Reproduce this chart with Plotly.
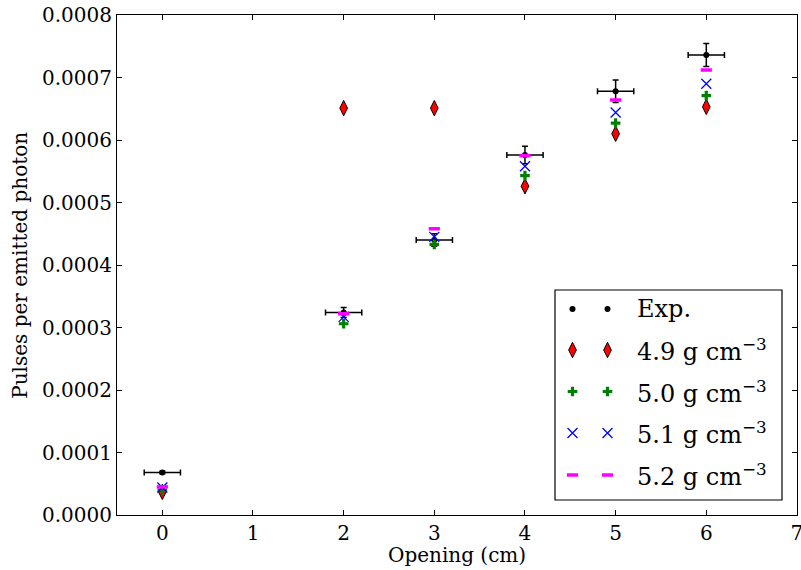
import plotly.graph_objects as go

# Measured pulses per emitted photon versus collimator opening
opening = [0, 2, 3, 4, 5, 6]
exp_vals = [6.8e-5, 3.24e-4, 4.40e-4, 5.76e-4, 6.78e-4, 7.36e-4]
exp_yerr = [2e-6, 8e-6, 1.0e-5, 1.4e-5, 1.8e-5, 1.85e-5]
exp_xerr = [0.2, 0.2, 0.2, 0.2, 0.2, 0.2]

# Simulated values for different material densities
sim_49 = [3.7e-5, 6.51e-4, 6.51e-4, 5.26e-4, 6.10e-4, 6.53e-4]
sim_50 = [4.0e-5, 3.06e-4, 4.33e-4, 5.43e-4, 6.27e-4, 6.71e-4]
sim_51 = [4.4e-5, 3.17e-4, 4.45e-4, 5.58e-4, 6.44e-4, 6.90e-4]
sim_52 = [4.5e-5, 3.22e-4, 4.58e-4, 5.75e-4, 6.64e-4, 7.12e-4]

labels = ["Exp.", "4.9 g cm<sup>\u22123</sup>", "5.0 g cm<sup>\u22123</sup>",
          "5.1 g cm<sup>\u22123</sup>", "5.2 g cm<sup>\u22123</sup>"]

x_ticks = [0, 1, 2, 3, 4, 5, 6, 7]

FONT = "DejaVu Serif"

styles = [
    dict(symbol="circle", size=6, color="black", line=dict(width=0)),
    dict(symbol="diamond-tall", size=11, color="red", line=dict(width=1, color="black")),
    dict(symbol="cross", size=8, color="green", line=dict(width=0)),
    dict(symbol="x-thin-open", size=10, color="blue", line=dict(width=1.3, color="blue")),
    dict(symbol="line-ew-open", size=8, color="magenta", line=dict(width=3.5, color="magenta")),
]

fig = go.Figure()

fig.add_trace(go.Scatter(
    x=opening, y=exp_vals, mode="markers", marker=styles[0], showlegend=False,
    error_x=dict(type="data", array=exp_xerr, color="black", thickness=1.5, width=3),
    error_y=dict(type="data", array=exp_yerr, color="black", thickness=1.5, width=3),
))
for vals, st in zip([sim_49, sim_50, sim_51, sim_52], styles[1:]):
    fig.add_trace(go.Scatter(x=opening, y=vals, mode="markers", marker=st, showlegend=False))

# Legend drawn by hand: two sample markers per entry, on a pixel-like overlay axis
leg_rows = [309, 350, 391.5, 433, 475]
for row, st, lab in zip(leg_rows, styles, labels):
    fig.add_trace(go.Scatter(x=[572.5, 607.5], y=[row, row], mode="markers", marker=st,
                             showlegend=False, xaxis="x2", yaxis="y2", hoverinfo="skip"))
    fig.add_annotation(x=635, y=row, xref="x2", yref="y2", text=lab, showarrow=False,
                       xanchor="left", yanchor="middle", font=dict(family=FONT, size=24, color="black"))

fig.add_shape(type="rect", xref="x2", yref="y2", x0=555, x1=782, y0=290, y1=500,
              line=dict(color="black", width=1.2), fillcolor="rgba(0,0,0,0)", layer="below")

# Axis titles
fig.add_annotation(text="Opening (cm)", xref="paper", yref="paper", x=0.5, y=-0.08,
                   xanchor="center", yanchor="middle", showarrow=False,
                   font=dict(family=FONT, size=20, color="black"))
fig.add_annotation(text="Pulses per emitted photon", xref="paper", yref="paper", x=-0.143, y=0.5,
                   xanchor="center", yanchor="middle", showarrow=False, textangle=-90,
                   font=dict(family=FONT, size=20, color="black"))

axis_common = dict(showline=True, linecolor="black", linewidth=1.2, mirror="ticks",
                   ticks="inside", ticklen=5, tickwidth=1, tickcolor="black",
                   showgrid=False, zeroline=False, ticklabeloverflow="allow", automargin=False,
                   tickfont=dict(family=FONT, size=20, color="black"))

fig.update_layout(
    width=801, height=570,
    margin=dict(l=117, r=4, t=15, b=55, autoexpand=False),
    plot_bgcolor="white", paper_bgcolor="white",
    xaxis=dict(range=[-0.5, 7.0005], tickmode="array", tickvals=x_ticks, **axis_common),
    yaxis=dict(range=[0, 0.0008], dtick=0.0001, tickformat=".4f", **axis_common),
    xaxis2=dict(overlaying="x", range=[117, 797], visible=False, anchor="y2"),
    yaxis2=dict(overlaying="y", range=[515, 15], visible=False, anchor="x2"),
)

fig.write_html("out.html")
